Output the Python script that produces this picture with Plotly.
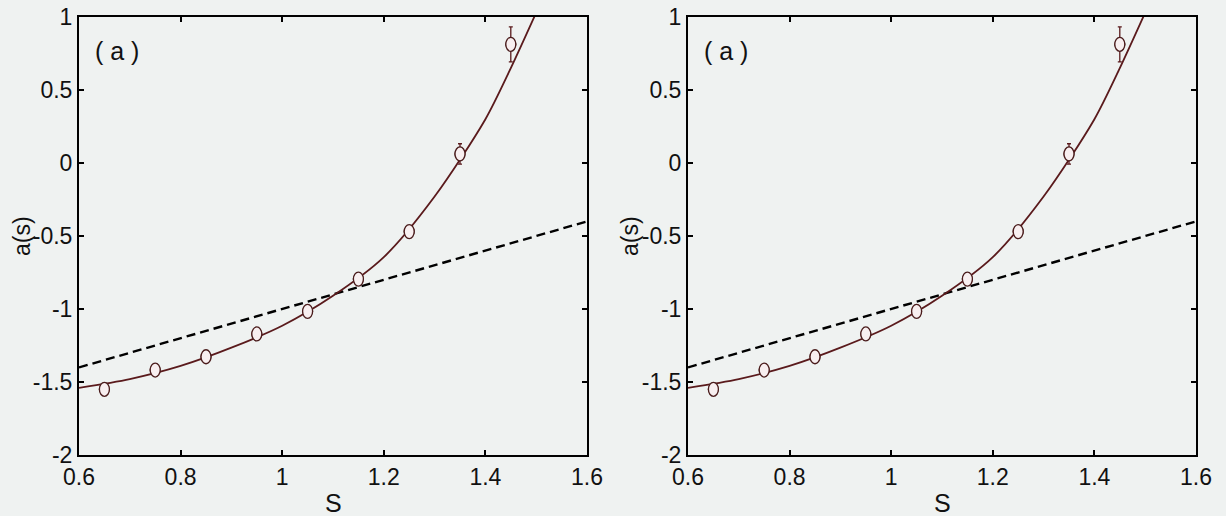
import plotly.graph_objects as go

# Measured a(s) values with error bars
s_points = [0.65, 0.75, 0.85, 0.95, 1.05, 1.15, 1.25, 1.35, 1.45]
a_points = [-1.55, -1.418, -1.327, -1.171, -1.016, -0.795, -0.47, 0.062, 0.813]
a_errors = [0.02, 0.02, 0.02, 0.02, 0.02, 0.02, 0.03, 0.07, 0.12]

# Fitted curve through the data
s_fit = [0.60, 0.70, 0.80, 0.90, 1.00, 1.10, 1.20, 1.30, 1.40, 1.45, 1.50]
a_fit = [-1.54, -1.48, -1.39, -1.265, -1.115, -0.91, -0.645, -0.23, 0.30, 0.65, 1.03]

# Linear reference line
s_line = [0.6, 1.6]
a_line = [-1.4, -0.4]

x_ticks = [0.6, 0.8, 1.0, 1.2, 1.4, 1.6]
x_ticktext = ["0.6", "0.8", "1", "1.2", "1.4", "1.6"]
y_ticks = [-2, -1.5, -1, -0.5, 0, 0.5, 1]
y_ticktext = ["-2", "-1.5", "-1", "-0.5", "0", "0.5", "1"]

panel_label = "( a )"
x_title = "S"
y_title = "a(s)"

FONT = "Liberation Sans, Arial, sans-serif"
CURVE = "#5a1a1c"
MARK_EDGE = "#4a1c1c"
MARK_FILL = "#f8eff0"
BG = "#eff2f1"

fig = go.Figure()

panels = [("x", "y", [79 / 1226, 587 / 1226]), ("x2", "y2", [688 / 1226, 1196 / 1226])]

for xr, yr, _ in panels:
    fig.add_trace(go.Scatter(
        x=s_line, y=a_line, mode="lines", xaxis=xr, yaxis=yr,
        line=dict(color="black", width=2.4, dash="9px,5px"), showlegend=False,
    ))
    fig.add_trace(go.Scatter(
        x=s_fit, y=a_fit, mode="lines", xaxis=xr, yaxis=yr,
        line=dict(color=CURVE, width=1.8, shape="spline", smoothing=0.8),
        showlegend=False,
    ))
    fig.add_trace(go.Scatter(
        x=s_points, y=a_points, mode="markers", xaxis=xr, yaxis=yr,
        error_y=dict(type="data", array=a_errors, color=CURVE, thickness=1.3, width=2),
        marker=dict(symbol="circle", size=10, color=MARK_FILL,
                    line=dict(color=MARK_EDGE, width=1.3)),
        showlegend=False,
    ))
    # Slightly tall open ellipses for the data markers
    for sx, ay in zip(s_points, a_points):
        fig.add_shape(
            type="circle", xref=xr, yref=yr, xsizemode="pixel", ysizemode="pixel",
            xanchor=sx, yanchor=ay, x0=-5, x1=5, y0=-7, y1=7,
            line=dict(color=MARK_EDGE, width=1.3), fillcolor=MARK_FILL, layer="above",
        )

y_domain = [(516 - 455) / 516, (516 - 17) / 516]

axis_common = dict(
    showgrid=False, zeroline=False, showline=True, linecolor="black", linewidth=2,
    mirror="ticks", ticks="inside", ticklen=5, tickwidth=1.5, tickcolor="black",
    automargin=False,
    tickfont=dict(family=FONT, size=23, color="#111"),
)

layout = dict(
    width=1226, height=516,
    margin=dict(l=0, r=0, t=0, b=0, autoexpand=False),
    paper_bgcolor=BG, plot_bgcolor=BG,
    showlegend=False,
)

annotations = []
for i, (xr, yr, dom) in enumerate(panels):
    xa = "xaxis" if i == 0 else "xaxis2"
    ya = "yaxis" if i == 0 else "yaxis2"
    layout[xa] = dict(axis_common, domain=dom, range=[0.6, 1.6],
                      tickvals=x_ticks, ticktext=x_ticktext, anchor=yr)
    layout[ya] = dict(axis_common, domain=y_domain, range=[-2, 1],
                      tickvals=y_ticks, ticktext=y_ticktext, anchor=xr)
    xd = xr + " domain"
    yd = yr + " domain"
    annotations.append(dict(text=panel_label, xref=xd, yref=yd, x=0.027, y=0.922,
                            xanchor="left", yanchor="middle", showarrow=False,
                            font=dict(family=FONT, size=25, color="#111")))
    annotations.append(dict(text=x_title, xref=xd, yref="paper", x=0.5, y=(516 - 503) / 516,
                            xanchor="center", yanchor="middle", showarrow=False,
                            font=dict(family=FONT, size=25, color="#111")))
    annotations.append(dict(text=y_title, xref="paper", yref=yd,
                            x=(22 if i == 0 else 630) / 1226, y=0.5,
                            xanchor="center", yanchor="middle", textangle=-90,
                            showarrow=False,
                            font=dict(family=FONT, size=23, color="#111")))

layout["annotations"] = annotations
fig.update_layout(**layout)

fig.write_html("out.html")
